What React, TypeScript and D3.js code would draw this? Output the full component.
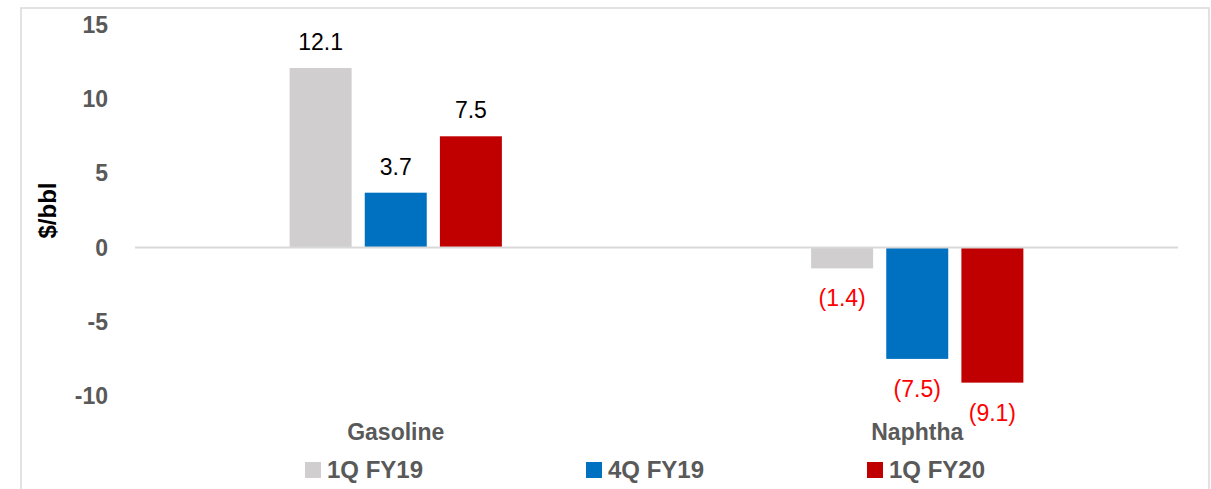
import { scaleBand, scaleLinear } from "d3";

const categories = ["Gasoline", "Naphtha"];
const seriesNames = ["1Q FY19", "4Q FY19", "1Q FY20"];
const seriesColors = ["#D0CECE", "#0070C0", "#C00000"];
const q1fy19 = [12.1, -1.4];
const q4fy19 = [3.7, -7.5];
const q1fy20 = [7.5, -9.1];
const yTicks = [15, 10, 5, 0, -5, -10];

const W = 1211;
const H = 489;
const font = "'Liberation Sans', Arial, sans-serif";

const fmt = (v: number) => (v < 0 ? `(${Math.abs(v).toFixed(1)})` : v.toFixed(1));

export default function App() {
  const series = [q1fy19, q4fy19, q1fy20];

  const y = scaleLinear().domain([-10, 15]).range([396, 25]);
  const x0 = scaleBand<string>().domain(categories).range([135, 1178]).padding(0);
  const groupW = x0.bandwidth() * 0.407;
  const x1 = scaleBand<string>()
    .domain(seriesNames)
    .range([0, groupW])
    .paddingInner(0.175)
    .paddingOuter(0);

  const legendX = scaleBand<string>().domain(seriesNames).range([305, 1148]);

  return (
    <svg
      width={W}
      height={H}
      style={{ position: "absolute", left: 0, top: 0, background: "#fff" }}
    >
      <rect x={21} y={8} width={1188} height={H + 20} fill="#fff" stroke="#D9D9D9" strokeWidth={1.5} />

      {/* y ticks */}
      {yTicks.map((t) => (
        <text
          key={t}
          x={108}
          y={y(t)}
          dy="0.35em"
          textAnchor="end"
          fontFamily={font}
          fontWeight="bold"
          fontSize={23}
          fill="#595959"
        >
          {t}
        </text>
      ))}

      <text
        transform={`translate(56,${(y(15) + y(-10)) / 2}) rotate(-90)`}
        textAnchor="middle"
        fontFamily={font}
        fontWeight="bold"
        fontSize={24}
        fill="#000"
      >
        $/bbl
      </text>

      {/* bars */}
      {categories.map((c, ci) => {
        const gx = x0(c)! + (x0.bandwidth() - groupW) / 2;
        return (
          <g key={c} transform={`translate(${gx},0)`}>
            {series.map((vals, si) => {
              const v = vals[ci];
              const bx = x1(seriesNames[si])!;
              const top = Math.min(y(v), y(0));
              const h = Math.abs(y(v) - y(0));
              return (
                <g key={si}>
                  <rect x={bx} y={top} width={x1.bandwidth()} height={h} fill={seriesColors[si]} />
                  <text
                    x={bx + x1.bandwidth() / 2}
                    y={v >= 0 ? y(v) - 26 : y(v) + 30}
                    dy="0.35em"
                    textAnchor="middle"
                    fontFamily={font}
                    fontSize={23}
                    fill={v >= 0 ? "#000" : "#FF0000"}
                  >
                    {fmt(v)}
                  </text>
                </g>
              );
            })}
          </g>
        );
      })}

      {/* zero line */}
      <line x1={135} x2={1178} y1={y(0)} y2={y(0)} stroke="#D9D9D9" strokeWidth={2} />

      {/* category labels */}
      {categories.map((c) => (
        <text
          key={c}
          x={x0(c)! + x0.bandwidth() / 2}
          y={432}
          dy="0.35em"
          textAnchor="middle"
          fontFamily={font}
          fontWeight="bold"
          fontSize={23}
          fill="#595959"
        >
          {c}
        </text>
      ))}

      {/* legend */}
      {seriesNames.map((s, i) => (
        <g key={s} transform={`translate(${legendX(s)},470)`}>
          <rect x={0} y={-8} width={16} height={16} fill={seriesColors[i]} />
          <text
            x={22}
            y={0}
            dy="0.35em"
            fontFamily={font}
            fontWeight="bold"
            fontSize={24}
            fill="#595959"
          >
            {s}
          </text>
        </g>
      ))}
    </svg>
  );
}
